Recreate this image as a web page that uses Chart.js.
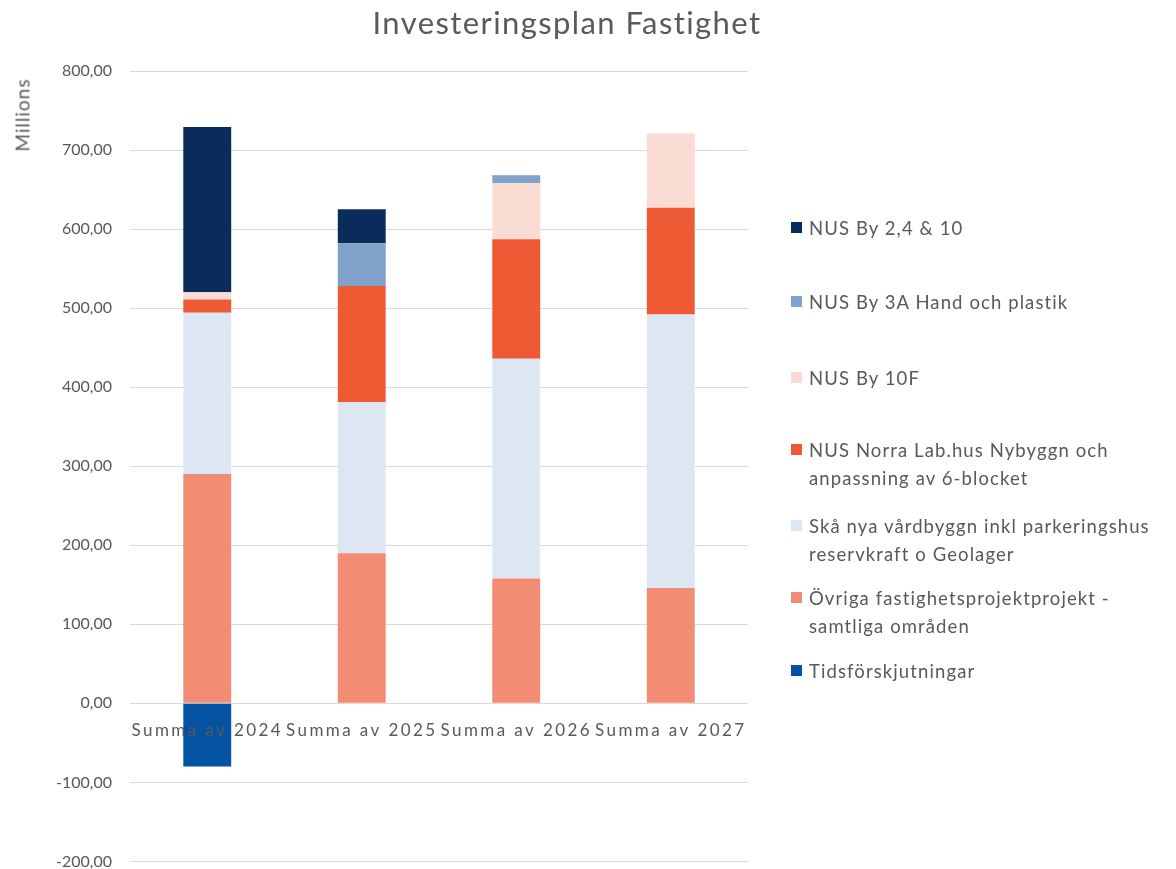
<!DOCTYPE html>
<html>
<head>
<meta charset="utf-8">
<script src="https://cdn.jsdelivr.net/npm/chart.js@4"></script>
<style>
  body { margin: 0; background: #fff; font-family: Lato, "Open Sans", sans-serif; color: #595959; }
  #wrap { position: relative; width: 1176px; height: 869px; overflow: hidden; }
  #myChart { position: absolute; left: 0; top: 0; }
  #title { position: absolute; left: 0; width: 1134px; top: 3px; text-align: center; font-size: 31px; letter-spacing: 1.4px; }
  #ytitle { position: absolute; left: 22px; top: 115px; font-size: 19px; letter-spacing: 1px; transform: translate(-50%, -50%) rotate(-90deg); white-space: nowrap; }
  #legend { position: absolute; left: 791px; top: 0; font-size: 18.5px; letter-spacing: 1.1px; }
  .item { position: absolute; left: 0; white-space: nowrap; line-height: 28px; }
  .sw { position: absolute; left: 0; top: 8px; width: 11px; height: 11px; }
  .txt { position: absolute; left: 18px; top: 0; }
</style>
</head>
<body>
<div id="wrap">
  <canvas id="myChart" width="1176" height="889"></canvas>
  <div id="title">Investeringsplan Fastighet</div>
  <div id="ytitle">Millions</div>
  <div id="legend"></div>
</div>
<script>
const categories = ['Summa av 2024', 'Summa av 2025', 'Summa av 2026', 'Summa av 2027'];

// values in millions
const nusBy2410 = [209, 43, 0, 0];
const nusBy3A = [0, 54, 10, 0];
const nusBy10F = [9, 0, 71, 94];
const norraLab = [17, 147, 151, 135];
const skaNya = [204, 191, 278, 346];
const ovriga = [290, 190, 158, 146];
const tids = [-80, 0, 0, 0];

const series = [
    { label: 'Övriga fastighetsprojektprojekt - samtliga områden', data: ovriga, color: '#f28c72' },
    { label: 'Skå nya vårdbyggn inkl parkeringshus reservkraft o Geolager', data: skaNya, color: '#dde7f3' },
    { label: 'NUS Norra Lab.hus Nybyggn och anpassning av 6-blocket', data: norraLab, color: '#ee5a34' },
    { label: 'NUS By 10F', data: nusBy10F, color: '#fbdcd4' },
    { label: 'NUS By 3A Hand och plastik', data: nusBy3A, color: '#7fa2ca' },
    { label: 'NUS By 2,4 & 10', data: nusBy2410, color: '#0a2c5a' },
    { label: 'Tidsförskjutningar', data: tids, color: '#0453a3' }
];

// legend built by hand (multi-line items)
const legendItems = [
    { lines: ['NUS By 2,4 & 10'], color: '#0a2c5a', top: 214 },
    { lines: ['NUS By 3A Hand och plastik'], color: '#7fa2ca', top: 288 },
    { lines: ['NUS By 10F'], color: '#fbdcd4', top: 364 },
    { lines: ['NUS Norra Lab.hus Nybyggn och', 'anpassning av 6-blocket'], color: '#ee5a34', top: 436 },
    { lines: ['Skå nya vårdbyggn inkl parkeringshus', 'reservkraft o Geolager'], color: '#dde7f3', top: 512 },
    { lines: ['Övriga fastighetsprojektprojekt -', 'samtliga områden'], color: '#f28c72', top: 584 },
    { lines: ['Tidsförskjutningar'], color: '#0453a3', top: 657 }
];
const legendEl = document.getElementById('legend');
legendItems.forEach(it => {
    const d = document.createElement('div');
    d.className = 'item';
    d.style.top = it.top + 'px';
    d.innerHTML = '<span class="sw" style="background:' + it.color + '"></span>' +
        '<span class="txt">' + it.lines.join('<br>') + '</span>';
    legendEl.appendChild(d);
});

// category labels sit next to the zero line, like Excel does
const zeroLabels = {
    id: 'zeroLabels',
    afterDraw(chart) {
        const c = chart.ctx;
        const xs = chart.scales.x;
        const y0 = chart.scales.y.getPixelForValue(0);
        c.save();
        c.font = '17px Lato';
        c.fillStyle = '#595959';
        c.textAlign = 'center';
        c.textBaseline = 'middle';
        c.letterSpacing = '2.4px';
        categories.forEach((cat, i) => {
            c.fillText(cat, xs.getPixelForTick(i), y0 + 27);
        });
        c.restore();
    }
};

const ctx = document.getElementById('myChart').getContext('2d');
const myChart = new Chart(ctx, {
    type: 'bar',
    data: {
        labels: categories,
        datasets: series.map(s => ({
            label: s.label,
            data: s.data,
            backgroundColor: s.color,
            borderWidth: 0,
            barPercentage: 0.31,
            categoryPercentage: 1.0
        }))
    },
    options: {
        responsive: false,
        animation: false,
        events: [],
        layout: { padding: { left: 0, right: 428, top: 71, bottom: 9 } },
        plugins: {
            legend: { display: false },
            title: { display: false },
            tooltip: { enabled: false }
        },
        scales: {
            x: {
                stacked: true,
                display: false
            },
            y: {
                stacked: true,
                min: -200,
                max: 800,
                border: { display: false },
                grid: { color: '#d9d9d9', drawTicks: false },
                ticks: {
                    stepSize: 100,
                    padding: 18,
                    color: '#595959',
                    font: { family: 'Lato', size: 16 },
                    callback: v => v.toFixed(2).replace('.', ',')
                },
                afterFit(scale) { scale.width = 130; }
            }
        }
    },
    plugins: [zeroLabels]
});
</script>
</body>
</html>
